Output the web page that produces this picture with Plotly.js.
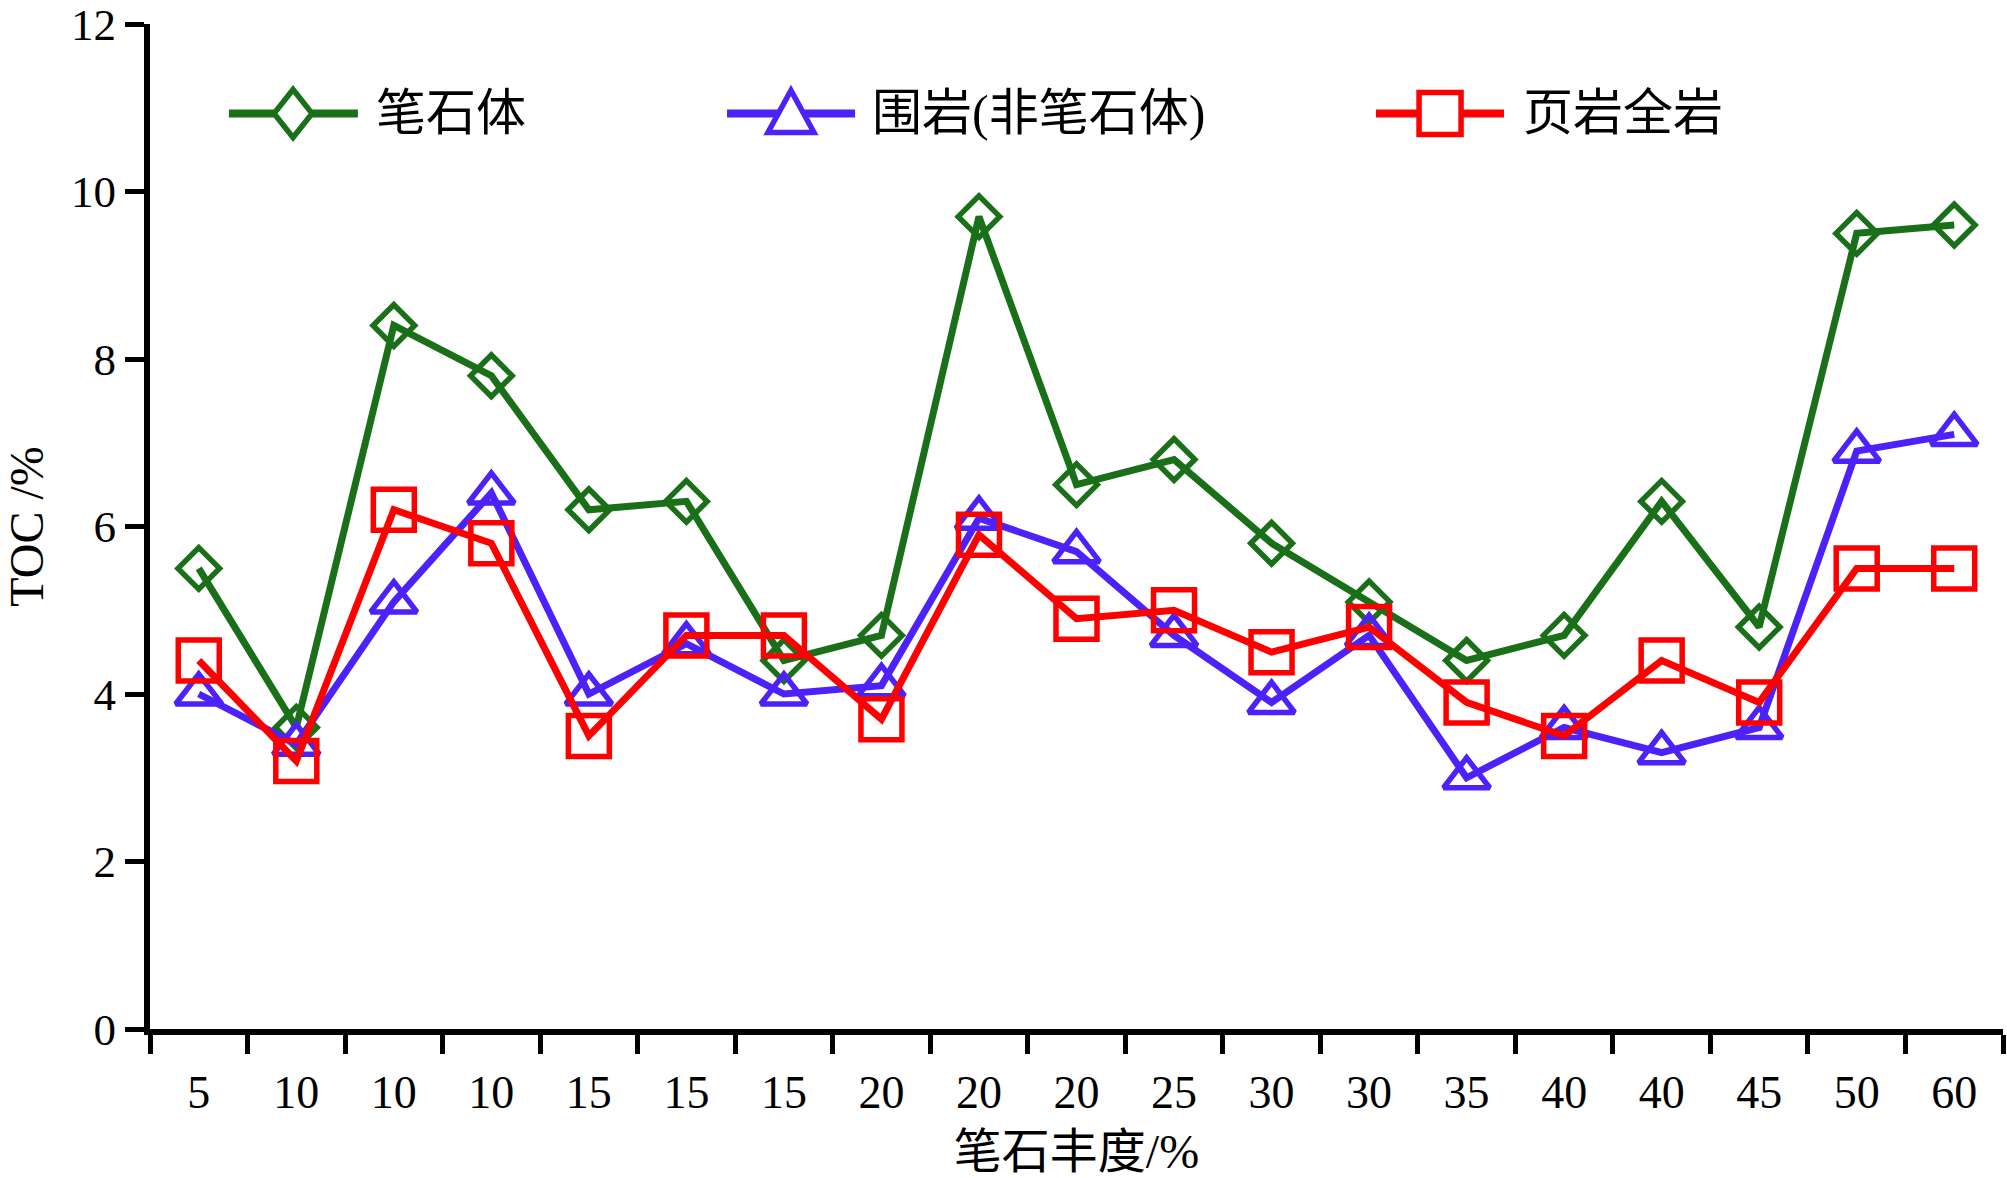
<!DOCTYPE html>
<html>
<head>
<meta charset="utf-8">
<script src="https://cdn.plot.ly/plotly-3.0.1.min.js"></script>
<style>html,body{margin:0;padding:0;background:#fff;}#chart{width:2007px;height:1178px;}</style>
</head>
<body>
<div id="chart"></div>
<script>
// ---- data ----
var abundanceLabels = ["5","10","10","10","15","15","15","20","20","20","25","30","30","35","40","40","45","50","60"];
var graptolite = [5.5,3.6,8.4,7.8,6.2,6.3,4.4,4.7,9.7,6.5,6.8,5.8,5.1,4.4,4.7,6.3,4.8,9.5,9.6];
var hostRock   = [4.0,3.4,5.1,6.4,4.0,4.6,4.0,4.1,6.1,5.7,4.7,3.9,4.7,3.0,3.6,3.3,3.6,6.9,7.1];
var wholeRock  = [4.4,3.2,6.2,5.8,3.5,4.7,4.7,3.7,5.9,4.9,5.0,4.5,4.8,3.9,3.5,4.4,3.9,5.5,5.5];
var seriesNames = ["笔石体","围岩(非笔石体)","页岩全岩"];
var yTicks = [0,2,4,6,8,10,12];

// ---- styles ----
var GREEN = "#197019", BLUE = "#4d21fa", RED = "#ff0000";
var FONT = "'Liberation Serif','Times New Roman','Noto Sans CJK SC',serif";
var idx = abundanceLabels.map(function(_, i){ return i; });
var bounds = abundanceLabels.map(function(_, i){ return i - 0.5; }).concat([abundanceLabels.length - 0.5]);

function trace(y, color, symbol, size, name){
  return {
    x: idx, y: y, name: name, type: "scatter", mode: "lines+markers",
    line: {color: color, width: 7},
    marker: {symbol: symbol, size: size, color: "rgba(0,0,0,0)", line: {color: color, width: 5.5}},
    cliponaxis: false, showlegend: false, hoverinfo: "skip"
  };
}
var data = [
  trace(graptolite, GREEN, "diamond", 32, seriesNames[0]),
  trace(hostRock, BLUE, "triangle-up", 40, seriesNames[1]),
  trace(wholeRock, RED, "square", 41, seriesNames[2])
];

// ---- custom legend (paper coords) ----
var legY = 0.911;
var legItems = [
  {x0: 0.0426, x1: 0.1122, xm: 0.0772, xt: 0.1209, color: GREEN,
   path: "M0,24 L19,0 L0,-24 L-19,0 Z"},
  {x0: 0.3114, x1: 0.3805, xm: 0.3459, xt: 0.3886, color: BLUE,
   path: "M0,23 L23,-19 L-23,-19 Z"},
  {x0: 0.6616, x1: 0.7307, xm: 0.6962, xt: 0.7399, color: RED,
   path: "M-21,-21 L21,-21 L21,21 L-21,21 Z"}
];
var shapes = [], annotations = [];
legItems.forEach(function(it, k){
  shapes.push({type: "line", xref: "paper", yref: "paper", x0: it.x0, x1: it.x1, y0: legY, y1: legY,
               line: {color: it.color, width: 8}});
  shapes.push({type: "path", xref: "paper", yref: "paper", xsizemode: "pixel", ysizemode: "pixel",
               xanchor: it.xm, yanchor: legY, path: it.path, fillcolor: "#ffffff",
               line: {color: it.color, width: 5.5}});
  annotations.push({xref: "paper", yref: "paper", x: it.xt, y: legY, xanchor: "left", yanchor: "middle",
                    text: seriesNames[k], showarrow: false, font: {family: FONT, size: 50, color: "#000"}});
});

var layout = {
  width: 2007, height: 1178,
  margin: {l: 150, r: 4, t: 24, b: 149},
  paper_bgcolor: "#fff", plot_bgcolor: "#fff",
  font: {family: FONT, color: "#000", size: 46},
  xaxis: {
    range: [-0.5, abundanceLabels.length - 0.5],
    tickmode: "array", tickvals: idx, ticktext: abundanceLabels,
    ticks: "outside", ticklen: 18, tickwidth: 5, tickcolor: "rgba(0,0,0,0)",
    minor: {tickmode: "array", tickvals: bounds, ticks: "outside", ticklen: 19, tickwidth: 5, tickcolor: "#000", showgrid: false},
    showline: true, linewidth: 6, linecolor: "#000",
    showgrid: false, zeroline: false,
    tickfont: {family: FONT, size: 46, color: "#000"},
    title: {text: "笔石丰度/%", font: {family: FONT, size: 48, color: "#000"}, standoff: 24}
  },
  yaxis: {
    range: [0, 12], tickmode: "array", tickvals: yTicks,
    ticks: "outside", ticklen: 19, tickwidth: 5, tickcolor: "#000",
    ticklabeloverflow: "allow",
    showline: true, linewidth: 6, linecolor: "#000",
    showgrid: false, zeroline: false,
    tickfont: {family: FONT, size: 45, color: "#000"},
    title: {text: "TOC /%", font: {family: FONT, size: 48, color: "#000"}, standoff: 36}
  },
  shapes: shapes,
  annotations: annotations,
  showlegend: false
};

Plotly.newPlot("chart", data, layout, {staticPlot: true});
</script>
</body>
</html>
